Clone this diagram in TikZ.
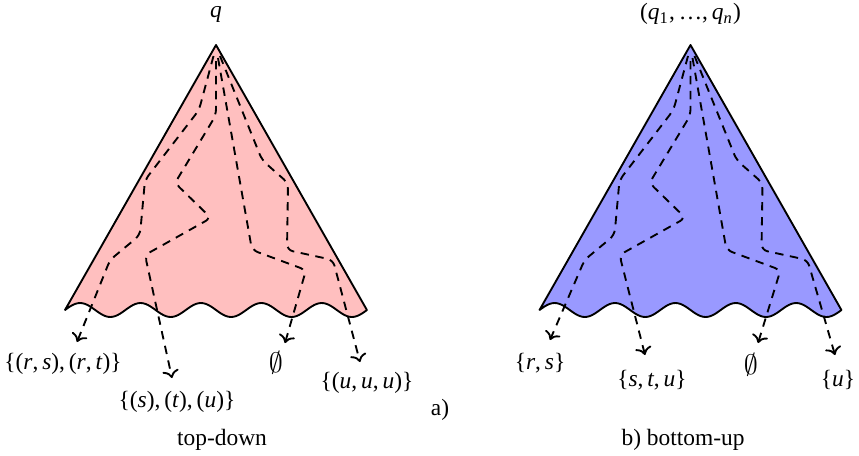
\documentclass[tikz,border=0pt]{standalone}
\usepackage{fontspec}
\setmainfont{Liberation Serif}
\usetikzlibrary{arrows.meta,positioning}
\newcommand{\iv}[1]{\textit{#1}}
\tikzset{cone/.style={thick,line join=round},
  run/.style={thick,dash pattern=on 3.6pt off 2.8pt,rounded corners=2.5pt},
  lbl/.style={inner sep=1pt}}

\begin{document}
\begin{tikzpicture}[x=0.427pt,y=-0.427pt,>=To,line join=round]
\useasboundingbox (0,0) rectangle (859,455);
% --- a) top-down
\begin{scope}
\draw[cone,fill=red!25] (216,45) -- (65,310) -- plot[domain=0:5,samples=121,smooth] ({65+60.4*\x},{310-7*sin(360*\x)}) -- cycle;
\node[lbl] (qa) at (216,14) {\iv{q}};
\coordinate (ta1) at (77,342); \coordinate (ta2) at (172,378);
\coordinate (ta3) at (285,343); \coordinate (ta4) at (360,362);
\draw[run,->] (213.5,56) -- (199,110) -- (145,180) -- (140,235) -- (110,260) -- (ta1);
\draw[run,->] (216,61) -- (216,115) -- (175,183) -- (211,218) -- (145,255) -- (ta2);
\draw[run,->] (218,58) -- (252,250) -- (306,270) -- (ta3);
\draw[run,->] (220,56) -- (262,160) -- (288,183) -- (287,250) -- (333,260) -- (ta4);
\node[lbl] (la1) at (63,364) {\{(\iv{r},\,\iv{s}),\,(\iv{r},\,\iv{t})\}};
\node[lbl] (la2) at (177,402) {\{(\iv{s}),\,(\iv{t}),\,(\iv{u})\}};
\node[lbl,font=\large] (la3) at (276,363) {$\emptyset$};
\node[lbl] (la4) at (367,383) {\{(\iv{u},\,\iv{u},\,\iv{u})\}};
\node[lbl] (tagA) at (440,410) {a)};
\node[lbl] (capA) at (222,440) {top-down};
\end{scope}
% --- b) bottom-up
\begin{scope}[shift={(474.5,0)}]
\draw[cone,fill=blue!40] (216,45) -- (65,310) -- plot[domain=0:5,samples=121,smooth] ({65+60.4*\x},{310-7*sin(360*\x)}) -- cycle;
\node[lbl] (qb) at (216,14) {(\iv{q}\textsubscript{1},\,\ldots,\,\iv{q}\textsubscript{\iv{n}})};
\coordinate (tb1) at (75.5,340); \coordinate (tb2) at (170.5,355);
\coordinate (tb3) at (283.5,343); \coordinate (tb4) at (360.5,355);
\draw[run,->] (213.5,56) -- (199,110) -- (145,180) -- (140,235) -- (110,260) -- (tb1);
\draw[run,->] (216,61) -- (216,115) -- (175,183) -- (211,218) -- (145,255) -- (tb2);
\draw[run,->] (218,58) -- (252,250) -- (306,270) -- (tb3);
\draw[run,->] (220,56) -- (262,160) -- (288,183) -- (287,250) -- (333,260) -- (tb4);
\node[lbl] (lb1) at (65.5,363) {\{\iv{r},\,\iv{s}\}};
\node[lbl] (lb2) at (177.5,380) {\{\iv{s},\,\iv{t},\,\iv{u}\}};
\node[lbl,font=\large] (lb3) at (276.5,365) {$\emptyset$};
\node[lbl] (lb4) at (363.5,380) {\{\iv{u}\}};
\node[lbl] (capB) at (208.5,440) {b) bottom-up};
\end{scope}
\end{tikzpicture}
\end{document}
